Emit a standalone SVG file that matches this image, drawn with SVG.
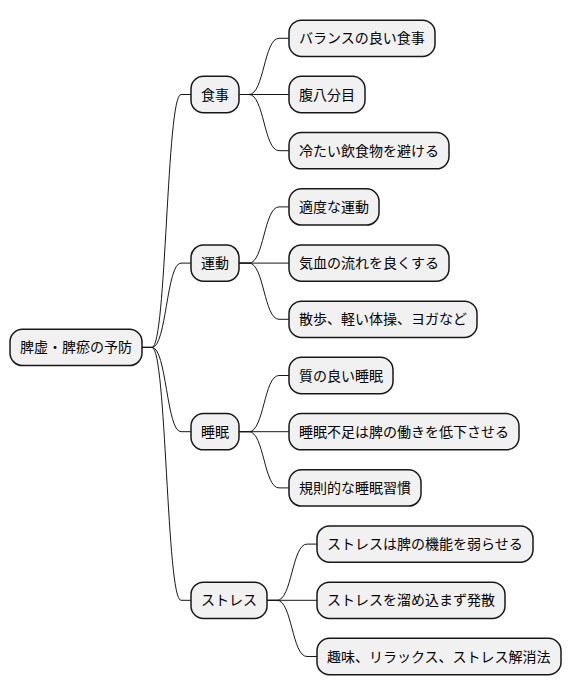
<svg xmlns="http://www.w3.org/2000/svg" width="572" height="696" viewBox="0 0 572 696">
<style>
.n rect{fill:#F1F1F1;stroke:#181818;stroke-width:1.5}
.n text{font-family:"Noto Sans CJK JP","Noto Sans",sans-serif;font-size:14px;fill:#000}
.c path{fill:none;stroke:#181818;stroke-width:1}
</style>
<rect width="572" height="696" fill="#FFFFFF"/>
<g class="c">
<path d="M142,347.4 L152,347.4 C166.5,347.4 166.5,94.5 181,94.5 L191,94.5"/>
<path d="M142,347.4 L152,347.4 C166.5,347.4 166.5,263.1 181,263.1 L191,263.1"/>
<path d="M142,347.4 L152,347.4 C166.5,347.4 166.5,431.7 181,431.7 L191,431.7"/>
<path d="M142,347.4 L152,347.4 C166.5,347.4 166.5,600.3 181,600.3 L191,600.3"/>
<path d="M239,94.5 L249,94.5 C264,94.5 264,38.3 279,38.3 L289,38.3"/>
<path d="M239,94.5 L289,94.5"/>
<path d="M239,94.5 L249,94.5 C264,94.5 264,150.7 279,150.7 L289,150.7"/>
<path d="M239,263.1 L249,263.1 C264,263.1 264,206.9 279,206.9 L289,206.9"/>
<path d="M239,263.1 L289,263.1"/>
<path d="M239,263.1 L249,263.1 C264,263.1 264,319.3 279,319.3 L289,319.3"/>
<path d="M239,431.7 L249,431.7 C264,431.7 264,375.5 279,375.5 L289,375.5"/>
<path d="M239,431.7 L289,431.7"/>
<path d="M239,431.7 L249,431.7 C264,431.7 264,487.9 279,487.9 L289,487.9"/>
<path d="M267,600.3 L277,600.3 C292,600.3 292,544.1 307,544.1 L317,544.1"/>
<path d="M267,600.3 L317,600.3"/>
<path d="M267,600.3 L277,600.3 C292,600.3 292,656.5 307,656.5 L317,656.5"/>
</g>
<g id="root" class="n"><rect x="10" y="329.25" width="132" height="36.3" rx="12.5"/><text x="20" y="352.4">脾虚・脾瘀の予防</text></g>
<g id="shokuji" class="n"><rect x="191" y="76.35" width="48" height="36.3" rx="12.5"/><text x="201" y="99.5">食事</text></g>
<g id="undou" class="n"><rect x="191" y="244.95" width="48" height="36.3" rx="12.5"/><text x="201" y="268.1">運動</text></g>
<g id="suimin" class="n"><rect x="191" y="413.55" width="48" height="36.3" rx="12.5"/><text x="201" y="436.7">睡眠</text></g>
<g id="stress" class="n"><rect x="191" y="582.15" width="76" height="36.3" rx="12.5"/><text x="201" y="605.3">ストレス</text></g>
<g id="l1" class="n"><rect x="289" y="20.15" width="146" height="36.3" rx="12.5"/><text x="299" y="43.3">バランスの良い食事</text></g>
<g id="l2" class="n"><rect x="289" y="76.35" width="76" height="36.3" rx="12.5"/><text x="299" y="99.5">腹八分目</text></g>
<g id="l3" class="n"><rect x="289" y="132.55" width="160" height="36.3" rx="12.5"/><text x="299" y="155.7">冷たい飲食物を避ける</text></g>
<g id="l4" class="n"><rect x="289" y="188.75" width="90" height="36.3" rx="12.5"/><text x="299" y="211.9">適度な運動</text></g>
<g id="l5" class="n"><rect x="289" y="244.95" width="160" height="36.3" rx="12.5"/><text x="299" y="268.1">気血の流れを良くする</text></g>
<g id="l6" class="n"><rect x="289" y="301.15" width="188" height="36.3" rx="12.5"/><text x="299" y="324.3">散歩、軽い体操、ヨガなど</text></g>
<g id="l7" class="n"><rect x="289" y="357.35" width="104" height="36.3" rx="12.5"/><text x="299" y="380.5">質の良い睡眠</text></g>
<g id="l8" class="n"><rect x="289" y="413.55" width="230" height="36.3" rx="12.5"/><text x="299" y="436.7">睡眠不足は脾の働きを低下させる</text></g>
<g id="l9" class="n"><rect x="289" y="469.75" width="132" height="36.3" rx="12.5"/><text x="299" y="492.9">規則的な睡眠習慣</text></g>
<g id="l10" class="n"><rect x="317" y="525.95" width="216" height="36.3" rx="12.5"/><text x="327" y="549.1">ストレスは脾の機能を弱らせる</text></g>
<g id="l11" class="n"><rect x="317" y="582.15" width="188" height="36.3" rx="12.5"/><text x="327" y="605.3">ストレスを溜め込まず発散</text></g>
<g id="l12" class="n"><rect x="317" y="638.35" width="244" height="36.3" rx="12.5"/><text x="327" y="661.5">趣味、リラックス、ストレス解消法</text></g>
</svg>
